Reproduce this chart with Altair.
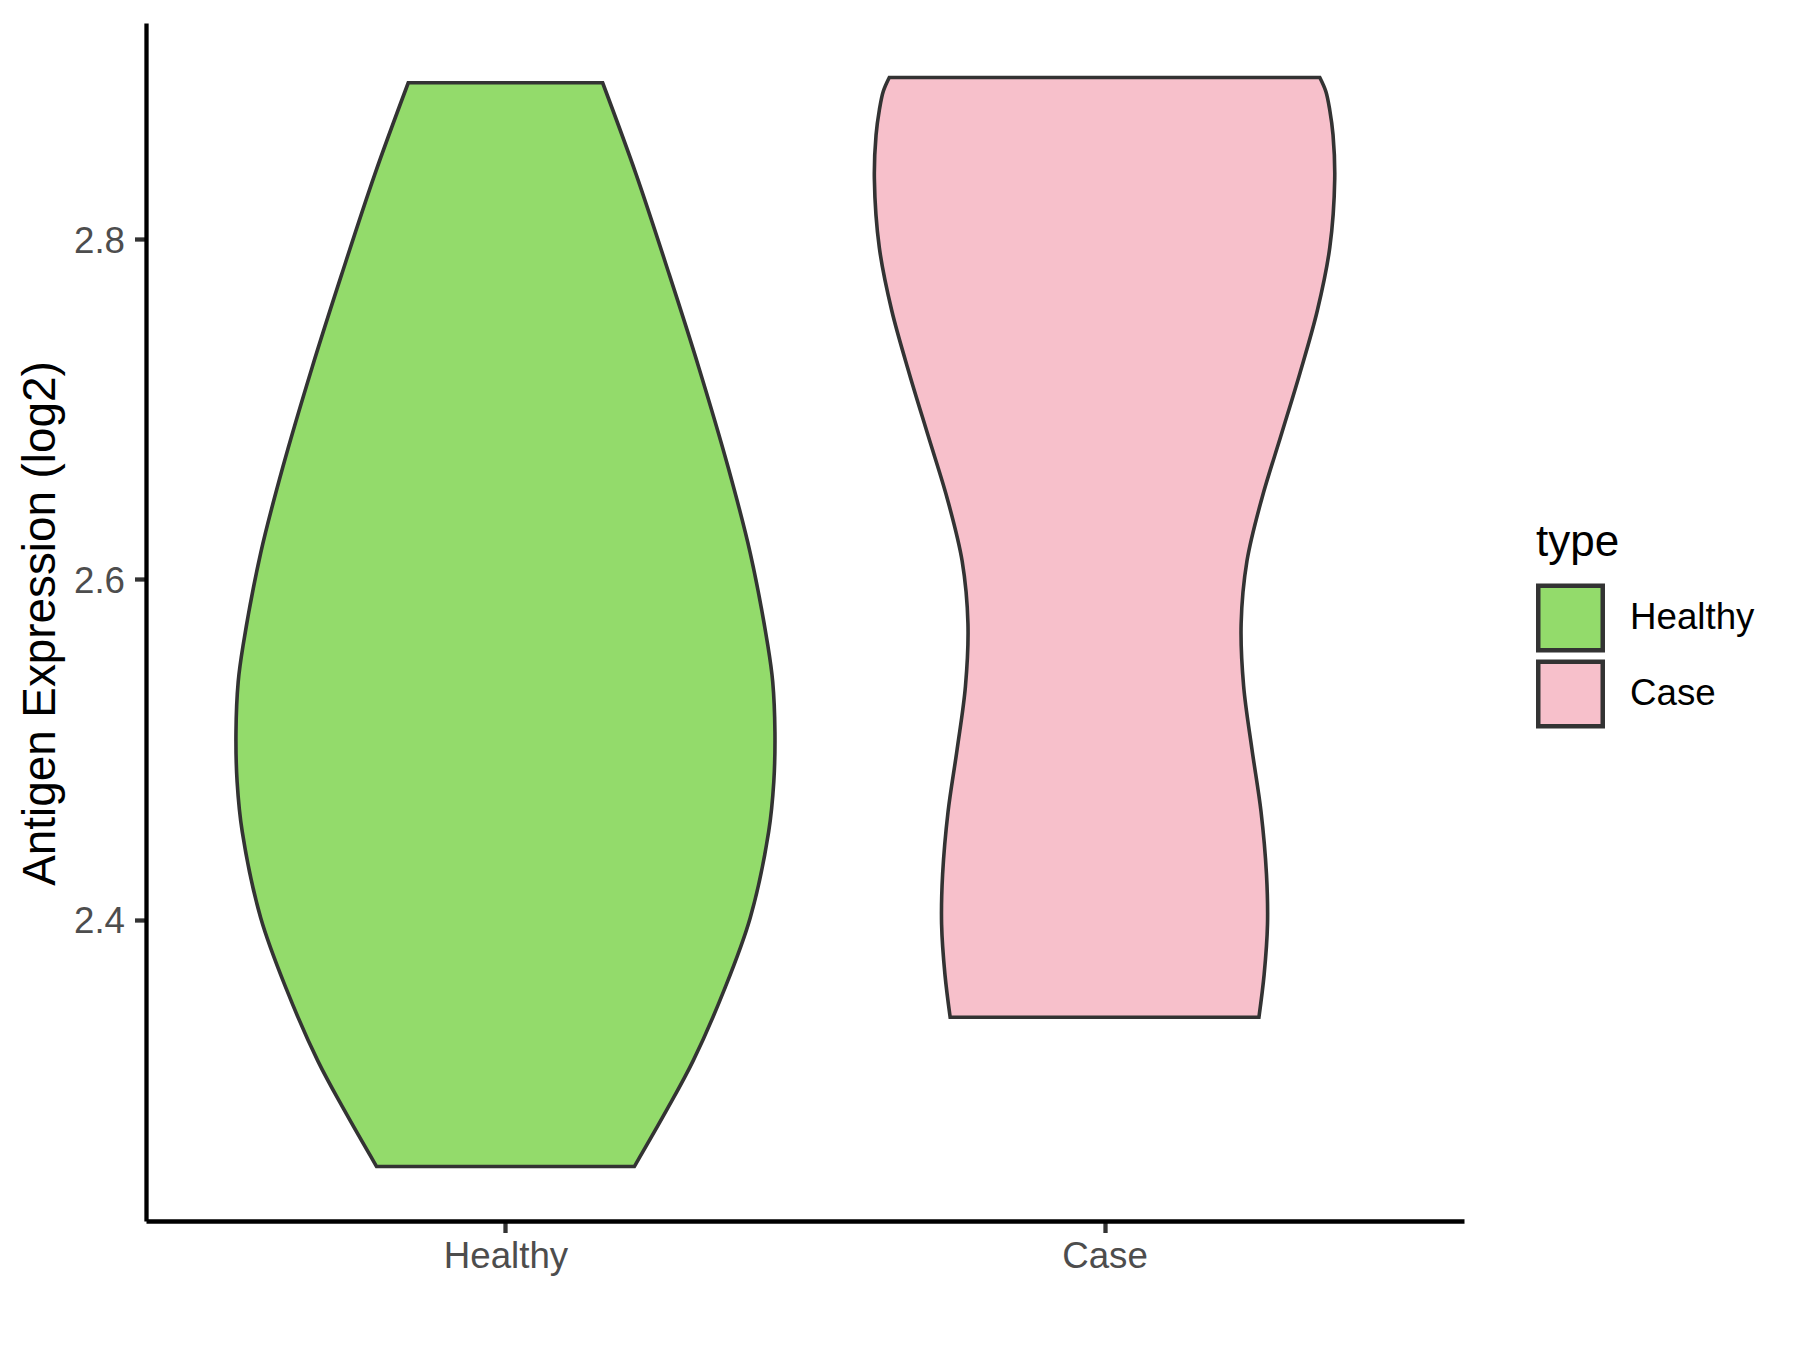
import altair as alt
import pandas as pd

# ---- data ----
categories = ["Healthy", "Case"]
fill_colors = ["#93DB6B", "#F7C0CB"]

# violin outline profile: expression value (log2) and half-width (in category units)
healthy_y = [2.2551, 2.2879, 2.3173, 2.3593, 2.4013, 2.4517, 2.4811, 2.5105,
             2.5399, 2.5609, 2.6155, 2.6659, 2.7247, 2.7792, 2.8380, 2.8918]
healthy_hw = [0.2151, 0.2685, 0.3134, 0.3656, 0.4086, 0.4393, 0.4479, 0.4498,
              0.4461, 0.4381, 0.4086, 0.3717, 0.3226, 0.2734, 0.2181, 0.1622]

case_y = [2.3428, 2.3679, 2.3974, 2.4268, 2.4636, 2.5004, 2.5372, 2.5740,
          2.6108, 2.6476, 2.6844, 2.7212, 2.7580, 2.7948, 2.8353, 2.8611,
          2.8758, 2.8868, 2.8949]
case_hw = [0.2577, 0.2664, 0.2720, 0.2703, 0.2612, 0.2460, 0.2322, 0.2280,
           0.2377, 0.2626, 0.2944, 0.3261, 0.3552, 0.3759, 0.3842, 0.3814,
           0.3759, 0.3693, 0.3593]

y_ticks = [2.4, 2.6, 2.8]
y_domain = [2.2231, 2.9269]
x_domain = [0.4, 2.6]

rows = []
for i, (cat, ys, hws) in enumerate([("Healthy", healthy_y, healthy_hw),
                                     ("Case", case_y, case_hw)]):
    center = i + 1
    for y, hw in zip(ys, hws):
        rows.append({"type": cat, "value": y, "lo": center - hw, "hi": center + hw})
df = pd.DataFrame(rows)

label_expr = " : ".join(
    [f"datum.value == {i + 1} ? '{c}'" for i, c in enumerate(categories[:-1])]
    + [f"'{categories[-1]}'"]
)

FONT = "Liberation Sans"

chart = alt.Chart(df).mark_area(
    orient="horizontal",
    interpolate="catmull-rom",
    stroke="#333333",
    strokeWidth=3.6,
    opacity=1,
    strokeJoin="miter",
).encode(
    y=alt.Y(
        "value:Q",
        scale=alt.Scale(domain=y_domain, nice=False, zero=False),
        axis=alt.Axis(
            values=y_ticks, format=".1f", title="Antigen Expression (log2)",
            labelPadding=10, labelOffset=2,
            titleX=-92, titleY=600, titleAngle=270,
            titleBaseline="alphabetic", titleAlign="center",
        ),
    ),
    x=alt.X(
        "lo:Q",
        scale=alt.Scale(domain=x_domain, nice=False, zero=False),
        axis=alt.Axis(values=[1, 2], labelExpr=label_expr, title=None,
                      labelPadding=5.5),
    ),
    x2="hi:Q",
    fill=alt.Fill(
        "type:N",
        scale=alt.Scale(domain=categories, range=fill_colors),
        legend=alt.Legend(
            title="type", orient="none", legendX=1390, legendY=498,
            symbolType="square", symbolSize=4160,
            symbolStrokeColor="#333333", symbolStrokeWidth=4.5,
            symbolOpacity=1,
            titleFont=FONT, titleFontSize=44, titleFontWeight="normal",
            titleColor="black", titlePadding=18.5,
            labelFont=FONT, labelFontSize=36.7, labelColor="black",
            labelOffset=25, rowPadding=-15, padding=0,
        ),
    ),
).properties(
    width=1318,
    height=1198,
    autosize=alt.AutoSizeParams(type="none"),
    padding={"left": 138, "top": 15, "right": 320, "bottom": 110},
).configure_view(
    stroke=None
).configure_axis(
    grid=False,
    domainColor="black",
    domainWidth=4.3,
    tickColor="#333333",
    tickWidth=4.3,
    tickSize=11.5,
    labelFont=FONT,
    labelFontSize=36.7,
    labelColor="#4D4D4D",
    titleFont=FONT,
    titleFontSize=45.8,
    titleFontWeight="normal",
    titleColor="black",
)

chart.save("out.html", embed_options={"renderer": "svg", "actions": False})
